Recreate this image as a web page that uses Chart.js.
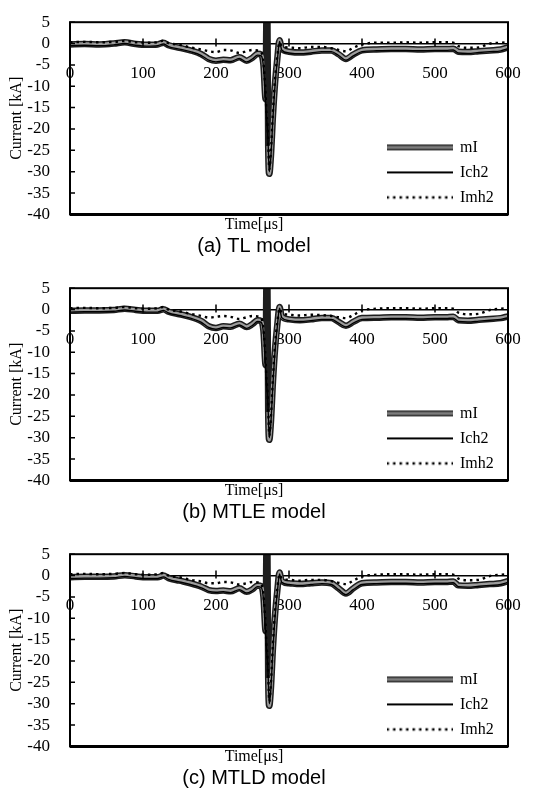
<!DOCTYPE html>
<html>
<head>
<meta charset="utf-8">
<script src="https://cdn.jsdelivr.net/npm/chart.js@4.4.1/dist/chart.umd.min.js"></script>
<style>
    html, body { margin: 0; padding: 0; background: #fff; }
    .panel { position: relative; width: 533px; height: 266px; }
</style>
</head>
<body>
<div class="panel"><canvas id="chartA"></canvas></div>
<div class="panel"><canvas id="chartB"></canvas></div>
<div class="panel"><canvas id="chartC"></canvas></div>
<script>
// time axis (µs), shared by every trace
const TIME = [0, 20, 40, 60, 75, 90, 105, 120, 128, 135,
    150, 165, 180, 190, 200, 210, 220, 232, 242, 250,
    257, 262, 265, 268, 269, 270.5, 271.5, 273, 275, 278,
    281, 284, 287, 290, 300, 315, 330, 345, 358, 368,
    378, 388, 400, 420, 440, 460, 480, 500, 515, 525,
    532, 545, 560, 575, 590, 600];

const X_TICKS = [0, 100, 200, 300, 400, 500, 600];
const Y_TICKS = [5, 0, -5, -10, -15, -20, -25, -30, -35, -40];
const SERIES_NAMES = ['mI', 'Ich2', 'Imh2'];
const CAPTIONS = ['(a) TL model', '(b) MTLE model', '(c) MTLD model'];

// (a) TL model
const mI_TL = [-0.2, -0.1, -0.2, 0, 0.3, -0.1, -0.3, -0.2, 0.2, -0.4,
    -1.0, -1.6, -2.5, -3.6, -4.0, -3.8, -3.9, -3.2, -4.0, -3.3,
    -2.4, -2.6, -5, -13, 5, 5, -24, -30.5, -27, -17,
    -9, -3.5, 0.8, -1.2, -1.9, -2.1, -1.9, -1.6, -1.6, -2.5,
    -3.6, -2.6, -1.6, -1.4, -1.3, -1.3, -1.4, -1.3, -1.3, -1.2,
    -1.9, -2.0, -1.8, -1.6, -1.4, -0.9];
const ich2_TL = [-0.5, -0.4, -0.5, -0.3, 0, -0.4, -0.6, -0.5, -0.1, -0.7,
    -1.3, -1.9, -2.8, -3.9, -4.3, -4.1, -4.2, -3.5, -4.3, -3.6,
    -2.7, -2.9, -5.5, -14, -17, -20, -24, -30, -27, -17.5,
    -9.5, -4, 0.5, -1.5, -2.2, -2.4, -2.2, -1.9, -1.9, -2.8,
    -3.9, -2.9, -1.9, -1.7, -1.6, -1.6, -1.7, -1.6, -1.6, -1.5,
    -2.2, -2.3, -2.1, -1.9, -1.7, -1.2];
const imh2_TL = [0.3, 0.4, 0.3, 0.4, 0.6, 0.3, 0.2, 0.3, 0.7, 0.1,
    -0.3, -0.9, -1.4, -1.8, -2.0, -1.5, -1.6, -2.2, -1.8, -1.5,
    -1.6, -2.0, -4.5, -12, -16, -19, -23, -29.5, -26, -16,
    -8, -3, 0.3, -0.6, -0.9, -1.1, -0.8, -0.8, -1.1, -1.5,
    -1.8, -1.0, -0.2, 0.2, 0.2, 0.3, 0.2, 0.3, 0.3, 0.2,
    -0.6, -1.0, -0.9, 0.0, 0.2, 0.3];

// (b) MTLE model
const mI_MTLE = [-0.3, -0.2, -0.2, -0.1, 0.2, -0.1, -0.3, -0.3, 0.1, -0.5,
    -1.1, -1.7, -2.7, -3.9, -4.3, -3.9, -4.0, -3.3, -4.1, -3.4,
    -2.5, -2.7, -5, -13, 5, 5, -24, -30.5, -27, -17,
    -9, -3.5, 0.6, -1.6, -2.3, -2.5, -2.3, -2.0, -2.0, -2.9,
    -3.8, -2.9, -2.0, -1.9, -1.8, -1.8, -1.9, -1.8, -1.8, -1.7,
    -2.5, -2.6, -2.4, -2.2, -2.0, -1.6];
const ich2_MTLE = [-0.6, -0.5, -0.5, -0.4, -0.1, -0.4, -0.6, -0.6, -0.2, -0.8,
    -1.4, -2.0, -3.0, -4.2, -4.6, -4.2, -4.3, -3.6, -4.4, -3.7,
    -2.8, -3.0, -5.5, -14, -17, -20, -24, -30, -27, -17.5,
    -9.5, -4, 0.3, -1.9, -2.6, -2.8, -2.6, -2.3, -2.3, -3.2,
    -4.1, -3.2, -2.3, -2.2, -2.1, -2.1, -2.2, -2.1, -2.1, -2.0,
    -2.8, -2.9, -2.7, -2.5, -2.3, -1.9];
const imh2_MTLE = [0.3, 0.4, 0.3, 0.4, 0.6, 0.3, 0.2, 0.3, 0.6, 0.0,
    -0.4, -1.0, -1.5, -1.9, -1.7, -1.5, -1.7, -2.2, -1.8, -1.5,
    -1.6, -2.0, -4.5, -12, -16, -19, -23, -29.5, -26, -16,
    -8, -3, 0.3, -0.8, -1.2, -1.4, -1.2, -1.3, -1.5, -1.8,
    -2.0, -1.3, -0.2, 0.2, 0.3, 0.3, 0.2, 0.3, 0.3, 0.2,
    -0.7, -1.1, -1.0, -0.1, 0.2, 0.3];

// (c) MTLD model
const mI_MTLD = [-0.4, -0.3, -0.3, -0.2, 0.1, -0.2, -0.4, -0.4, 0.0, -0.6,
    -1.2, -1.8, -2.6, -3.4, -3.6, -3.5, -3.7, -3.0, -3.8, -3.2,
    -2.3, -2.5, -5, -13, 5, 5, -24, -30.5, -27, -17,
    -9, -3.5, 0.7, -1.3, -1.8, -2.0, -1.8, -1.6, -1.8, -3.0,
    -4.2, -3.0, -1.8, -1.6, -1.5, -1.5, -1.6, -1.5, -1.5, -1.4,
    -2.3, -2.4, -2.2, -2.0, -1.8, -1.3];
const ich2_MTLD = [-0.7, -0.6, -0.6, -0.5, -0.2, -0.5, -0.7, -0.7, -0.3, -0.9,
    -1.5, -2.1, -2.9, -3.7, -3.9, -3.8, -4.0, -3.3, -4.1, -3.5,
    -2.6, -2.8, -5.5, -14, -17, -20, -24, -30, -27, -17.5,
    -9.5, -4, 0.4, -1.6, -2.1, -2.3, -2.1, -1.9, -2.1, -3.3,
    -4.5, -3.3, -2.1, -1.9, -1.8, -1.8, -1.9, -1.8, -1.8, -1.7,
    -2.6, -2.7, -2.5, -2.3, -2.1, -1.6];
const imh2_MTLD = [0.3, 0.4, 0.3, 0.4, 0.6, 0.3, 0.2, 0.3, 0.6, 0.0,
    -0.4, -1.0, -1.4, -1.8, -1.8, -1.5, -1.6, -2.1, -1.8, -1.5,
    -1.6, -2.0, -4.5, -12, -16, -19, -23, -29.5, -26, -16,
    -8, -3, 0.3, -0.7, -1.0, -1.2, -1.0, -1.0, -1.3, -1.7,
    -2.0, -1.2, -0.2, 0.2, 0.3, 0.3, 0.2, 0.3, 0.3, 0.2,
    -0.7, -1.1, -1.0, -0.1, 0.2, 0.3];

const SERIF = "'Liberation Serif', 'Times New Roman', serif";
const SANS = "'Liberation Sans', Arial, sans-serif";

const toPoints = (vals) => TIME.map((t, i) => ({ x: t, y: vals[i] }));

// little line samples for the legend (Chart.js won't dash a 'line' point style)
function swatch(draw) {
    const c = document.createElement('canvas');
    c.width = 66;
    c.height = 8;
    const g = c.getContext('2d');
    g.beginPath();
    g.moveTo(0, 4);
    g.lineTo(66, 4);
    draw(g);
    return c;
}
const SWATCHES = {
    mI: swatch(g => {
        g.strokeStyle = '#2a2a2a'; g.lineWidth = 6; g.stroke();
        g.strokeStyle = '#7d7d7d'; g.lineWidth = 3; g.stroke();
    }),
    Ich2: swatch(g => { g.strokeStyle = '#000'; g.lineWidth = 2.2; g.stroke(); }),
    Imh2: swatch(g => { g.strokeStyle = '#000'; g.lineWidth = 2.6; g.setLineDash([2.5, 4]); g.stroke(); })
};

// box around the plot, inward ticks on the y axis, crossing ticks on the zero line
const frame = {
    id: 'frame',
    afterDatasetsDraw(chart) {
        const { ctx, chartArea: a, scales } = chart;
        ctx.save();
        ctx.strokeStyle = '#000';
        ctx.lineWidth = 2;
        ctx.strokeRect(a.left, a.top, a.right - a.left, a.bottom - a.top);
        ctx.lineWidth = 3;
        ctx.beginPath();
        ctx.moveTo(a.left, a.bottom);
        ctx.lineTo(a.right, a.bottom);
        ctx.stroke();
        ctx.lineWidth = 1.5;
        ctx.beginPath();
        Y_TICKS.forEach(v => {
            const y = scales.y.getPixelForValue(v);
            ctx.moveTo(a.left, y);
            ctx.lineTo(a.left + 5, y);
        });
        const y0 = scales.y.getPixelForValue(0);
        X_TICKS.slice(1, -1).forEach(v => {
            const x = scales.x.getPixelForValue(v);
            ctx.moveTo(x, y0 - 5);
            ctx.lineTo(x, y0 + 3);
        });
        ctx.stroke();
        ctx.restore();
    }
};

// legend sits inside the plot, lower right
const legendInside = {
    id: 'legendInside',
    afterLayout(chart) {
        const lg = chart.legend;
        const a = chart.chartArea;
        lg.top = a.top;
        lg.bottom = a.bottom;
        lg.left = a.right - 130;
        lg.right = lg.left + lg.width;
    }
};

function buildChart(id, caption, mI, ich2, imh2) {
    const ctx = document.getElementById(id).getContext('2d');
    return new Chart(ctx, {
        type: 'line',
        data: {
            datasets: [
                {
                    label: SERIES_NAMES[1],
                    data: toPoints(ich2),
                    borderColor: '#000',
                    borderWidth: 1.4
                },
                {
                    label: SERIES_NAMES[2],
                    data: toPoints(imh2),
                    borderColor: '#000',
                    borderWidth: 2.4,
                    borderDash: [2.5, 4]
                },
                {
                    label: SERIES_NAMES[0],
                    data: toPoints(mI),
                    borderColor: '#9c9c9c',
                    borderWidth: 3.5,
                    // the spike near 270 µs reads as a solid black bar
                    segment: {
                        borderColor: c => (c.p0.parsed.x >= 268 && c.p1.parsed.x <= 271.5) ? '#1e1e1e' : undefined
                    }
                },
                {
                    label: 'edge',
                    data: toPoints(mI),
                    borderColor: '#1e1e1e',
                    borderWidth: 6.5
                }
            ]
        },
        options: {
            responsive: true,
            maintainAspectRatio: false,
            animation: false,
            elements: {
                point: { radius: 0 },
                line: { cubicInterpolationMode: 'monotone' }
            },
            layout: { padding: { top: 15, right: 25, left: 0, bottom: 8 } },
            plugins: {
                tooltip: { enabled: false },
                legend: {
                    position: 'chartArea',
                    align: 'end',
                    labels: {
                        usePointStyle: true,
                        usePointStyleWidth: true,
                        pointStyleWidth: 65,
                        padding: 9,
                        color: '#000',
                        font: { family: SERIF, size: 16 },
                        generateLabels: (chart) => {
                            const items = Chart.defaults.plugins.legend.labels.generateLabels(chart)
                                .filter(it => it.text !== 'edge');
                            items.forEach(it => { it.pointStyle = SWATCHES[it.text]; });
                            return items.sort((p, q) => SERIES_NAMES.indexOf(p.text) - SERIES_NAMES.indexOf(q.text));
                        }
                    }
                },
                title: {
                    display: true,
                    position: 'bottom',
                    text: caption,
                    color: '#000',
                    font: { family: SANS, size: 20, weight: 'normal', lineHeight: 1.2 },
                    padding: 0
                },
                subtitle: {
                    display: true,
                    position: 'bottom',
                    text: 'Time[\u03bcs]',
                    color: '#000',
                    font: { family: SERIF, size: 16, lineHeight: 1.1 },
                    padding: { top: 2, bottom: 0 }
                }
            },
            scales: {
                x: {
                    type: 'linear',
                    position: { y: 0 },
                    min: 0,
                    max: 600,
                    grid: { display: false },
                    border: { display: true, color: '#000', width: 1.5 },
                    afterBuildTicks: (s) => { s.ticks = X_TICKS.map(v => ({ value: v })); },
                    ticks: {
                        autoSkip: false,
                        padding: 12,
                        color: '#000',
                        maxRotation: 0,
                        font: { family: SERIF, size: 17 }
                    }
                },
                y: {
                    min: -40,
                    max: 5,
                    grid: { display: false },
                    border: { display: false },
                    afterBuildTicks: (s) => { s.ticks = Y_TICKS.map(v => ({ value: v })); },
                    afterFit: (s) => { s.width = 70; },
                    ticks: {
                        autoSkip: false,
                        padding: 12,
                        color: '#000',
                        font: { family: SERIF, size: 17 }
                    },
                    title: {
                        display: true,
                        text: 'Current [kA]',
                        color: '#000',
                        font: { family: SERIF, size: 16 },
                        padding: { top: 7, bottom: 0 }
                    }
                }
            }
        },
        plugins: [frame, legendInside]
    });
}

buildChart('chartA', CAPTIONS[0], mI_TL, ich2_TL, imh2_TL);
buildChart('chartB', CAPTIONS[1], mI_MTLE, ich2_MTLE, imh2_MTLE);
buildChart('chartC', CAPTIONS[2], mI_MTLD, ich2_MTLD, imh2_MTLD);
</script>
</body>
</html>
